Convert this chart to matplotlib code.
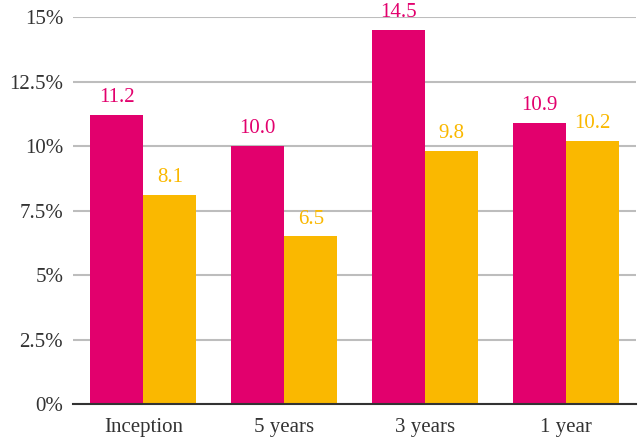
import matplotlib
matplotlib.use("Agg")
import matplotlib.pyplot as plt
import numpy as np

# chart data
categories = ["Inception", "5 years", "3 years", "1 year"]
fund = [11.2, 10.0, 14.5, 10.9]
benchmark = [8.1, 6.5, 9.8, 10.2]
yticks = [0, 2.5, 5, 7.5, 10, 12.5, 15]
ytick_labels = ["0%", "2.5%", "5%", "7.5%", "10%", "12.5%", "15%"]

pink = "#E2006D"
gold = "#FAB800"

plt.rcParams["font.family"] = ["Liberation Serif", "DejaVu Serif"]

fig = plt.figure(figsize=(6.4, 4.38), dpi=100)
ax = fig.add_axes([0.114, 0.0776, 0.88, 0.8834])

x = np.arange(len(categories))
w = 0.377
b1 = ax.bar(x - w / 2, fund, w, color=pink, zorder=3)
b2 = ax.bar(x + w / 2, benchmark, w, color=gold, zorder=3)

for rect, v in zip(b1, fund):
    ax.text(rect.get_x() + rect.get_width() / 2, v + 0.3, f"{v:.1f}",
            ha="center", va="bottom", color=pink, fontsize=15)
for rect, v in zip(b2, benchmark):
    ax.text(rect.get_x() + rect.get_width() / 2, v + 0.3, f"{v:.1f}",
            ha="center", va="bottom", color=gold, fontsize=15)

ax.set_xlim(-0.5, len(categories) - 0.5)
ax.set_ylim(0, 15)
ax.set_yticks(yticks)
ax.set_yticklabels(ytick_labels)
ax.set_xticks(x)
ax.set_xticklabels(categories)
ax.tick_params(axis="both", length=0, labelsize=15, colors="#333333")
ax.tick_params(axis="y", pad=7)
ax.tick_params(axis="x", pad=10)

ax.yaxis.grid(True, color="#BDBDBD", linewidth=1.5, zorder=0)
for s in ["left", "right", "top"]:
    ax.spines[s].set_visible(False)
ax.spines["bottom"].set_color("#333333")
ax.spines["bottom"].set_linewidth(1.5)
ax.spines["bottom"].set_zorder(4)

fig.savefig("out.png", dpi=100)
